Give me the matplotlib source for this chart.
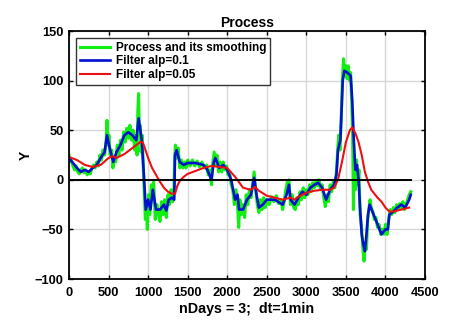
import matplotlib
matplotlib.use("Agg")
import matplotlib.pyplot as plt

# raw process (green)
t_proc = [0, 15, 30, 50, 70, 90, 110, 130, 150, 170, 190, 210, 230, 250, 270, 290,
          310, 330, 350, 370, 390, 410, 430, 450, 470, 480, 490, 505, 520, 540, 555,
          570, 590, 610, 630, 650, 670, 690, 710, 730, 750, 770, 790, 810, 830, 850,
          860, 870, 880, 890, 900, 910, 925, 940, 955, 965, 975, 990, 1005, 1020, 1040,
          1055, 1070, 1090, 1110, 1130, 1150, 1170, 1190, 1210, 1230, 1250, 1270, 1290,
          1310, 1325, 1335, 1345, 1360, 1380, 1400, 1420, 1440, 1460, 1480, 1500, 1530,
          1560, 1590, 1620, 1650, 1680, 1710, 1740, 1760, 1780, 1800, 1815, 1835, 1855,
          1870, 1890, 1910, 1930, 1950, 1970, 1990, 2010, 2030, 2050, 2070, 2090, 2110,
          2130, 2145, 2160, 2180, 2200, 2220, 2240, 2260, 2280, 2300, 2320, 2340, 2360,
          2380, 2400, 2420, 2440, 2460, 2480, 2500, 2530, 2560, 2590, 2620, 2650, 2680,
          2700, 2720, 2740, 2760, 2780, 2800, 2820, 2840, 2860, 2880, 2900, 2920, 2940,
          2960, 2980, 3000, 3020, 3040, 3060, 3080, 3100, 3120, 3140, 3160, 3180, 3200,
          3220, 3240, 3260, 3280, 3300, 3320, 3340, 3360, 3380, 3400, 3410, 3425, 3440,
          3455, 3470, 3485, 3500, 3515, 3530, 3545, 3560, 3575, 3585, 3595, 3605, 3620,
          3635, 3650, 3665, 3680, 3700, 3715, 3730, 3745, 3760, 3775, 3790, 3805, 3820,
          3840, 3860, 3880, 3900, 3920, 3940, 3960, 3980, 4000, 4020, 4040, 4060, 4080,
          4100, 4120, 4140, 4160, 4180, 4200, 4220, 4240, 4260, 4280, 4300, 4320]
y_proc = [25, 18, 20, 14, 10, 14, 8, 6, 10, 12, 7, 10, 5, 8, 6, 12,
          15, 12, 18, 14, 25, 20, 30, 25, 40, 60, 35, 45, 25, 30, 12,
          22, 18, 35, 25, 40, 30, 48, 38, 52, 42, 55, 40, 50, 30, 45,
          25, 70, 87, 45, 55, 28, 45, 10, -20, -40, -25, -50, -15, -35, -5,
          -15, -2, -40, -25, -35, -42, -22, -35, -20, -38, -15, -25, -10,
          -22, -12, 20, 35, 22, 32, 12, 20, 12, 18, 12, 20, 14,
          20, 14, 19, 13, 18, 12, 15, 5, 10, -5, 15, 28, 15,
          25, 8, 18, 8, 18, 10, 14, 5, 8, -5, -10, -25, -10,
          -25, -48, -20, -35, -25, -38, -15, -25, -10, -18, -5, 8, -10,
          -25, -33, -20, -30, -18, -28, -20, -25, -17, -22, -16, -24, -20,
          -30, -22, -10, -2, 0, -25, -15, -28, -30, -18, -25, -12, -20,
          -8, -18, -10, -15, -5, -12, -3, -8, -2, -6, 0, -10, -5,
          -18, -27, -15, -22, -5, -12, -2, -8, 8, 35, 45, 30, 60,
          100, 122, 105, 115, 102, 115, 100, 108, 75, 45, -30, 20, -10,
          20, -5, 10, -35, -50, -70, -82, -65, -70, -40, -30, -20, -28,
          -32, -40, -38, -48, -45, -55, -50, -55, -45, -55, -40, -30, -35,
          -28, -33, -25, -30, -24, -28, -22, -30, -25, -20, -15, -12]

# filter alp=0.1 (blue)
t_f1 = [0, 50, 100, 150, 200, 250, 300, 350, 400, 450, 480, 520, 560, 600, 650,
        700, 750, 800, 850, 880, 920, 950, 970, 1000, 1030, 1060, 1100, 1150, 1200,
        1230, 1260, 1300, 1330, 1340, 1360, 1400, 1450, 1500, 1600, 1700, 1750, 1800,
        1830, 1850, 1900, 1950, 2000, 2050, 2100, 2130, 2150, 2200, 2250, 2300, 2340,
        2370, 2400, 2450, 2500, 2600, 2700, 2750, 2780, 2800, 2850, 2900, 2950, 3000,
        3050, 3100, 3150, 3200, 3250, 3300, 3350, 3380, 3400, 3430, 3460, 3480, 3520,
        3560, 3580, 3600, 3620, 3640, 3660, 3680, 3700, 3720, 3740, 3760, 3780, 3800,
        3850, 3900, 3950, 4000, 4030, 4050, 4100, 4150, 4200, 4250, 4300, 4320]
y_f1 = [22, 17, 12, 8, 10, 8, 12, 15, 22, 28, 45, 30, 18, 28, 35,
        45, 48, 45, 40, 62, 40, 0, -30, -20, -30, -10, -30, -30, -25,
        -31, -20, -18, -20, 25, 30, 18, 15, 17, 17, 15, 10, 0,
        18, 22, 12, 15, 10, 0, -20, -15, -30, -30, -20, -15, 2,
        -15, -28, -25, -20, -20, -25, -15, -5, -20, -25, -18, -12, -15,
        -8, -5, -3, -8, -20, -10, -5, 5, 30, 40, 100, 110, 108,
        105, 80, 40, 10, 15, 0, -30, -55, -65, -72, -55, -35, -25,
        -35, -45, -55, -50, -50, -35, -32, -28, -25, -28, -20, -15]

# filter alp=0.05 (red)
t_f2 = [0, 100, 200, 300, 400, 500, 550, 600, 700, 800, 900, 930, 950, 1000, 1050,
        1100, 1150, 1200, 1250, 1300, 1340, 1370, 1400, 1450, 1500, 1600, 1700, 1800,
        1900, 2000, 2100, 2200, 2300, 2350, 2400, 2500, 2600, 2700, 2800, 2850, 2900,
        3000, 3100, 3200, 3300, 3350, 3400, 3450, 3500, 3550, 3580, 3620, 3660, 3700,
        3740, 3780, 3820, 3900, 3950, 4000, 4050, 4100, 4200, 4300]
y_f2 = [23, 20, 15, 13, 15, 22, 24, 22, 26, 32, 38, 38, 34, 22, 12,
        5, -2, -8, -12, -14, -14, -6, -1, 3, 6, 9, 12, 14,
        13, 12, 3, -8, -10, -7, -11, -16, -18, -20, -18, -20, -17,
        -13, -11, -10, -10, -8, 0, 18, 38, 50, 53, 47, 38, 25,
        8, -2, -10, -18, -22, -28, -32, -32, -30, -28]

zero_x = [0, 4320]
zero_y = [0, 0]

xticks = [0, 500, 1000, 1500, 2000, 2500, 3000, 3500, 4000, 4500]
yticks = [-100, -50, 0, 50, 100, 150]

plt.rcParams['font.family'] = ['Liberation Sans', 'DejaVu Sans']
plt.rcParams['font.weight'] = 'bold'

fig = plt.figure(figsize=(4.57, 3.22), dpi=100)
ax = fig.add_axes([0.151, 0.1335, 0.779, 0.770])

ax.plot(t_proc, y_proc, color='#11ee11', lw=2.2, label='Process and its smoothing')
ax.plot(t_f1, y_f1, color='#0010d0', lw=1.9, label='Filter alp=0.1')
ax.plot(t_f2, y_f2, color='#ee1010', lw=1.5, label='Filter alp=0.05')
ax.plot(zero_x, zero_y, color='black', lw=1.4)

ax.set_xlim(0, 4500)
ax.set_ylim(-100, 150)
ax.set_xticks(xticks)
ax.set_yticks(yticks)
ax.grid(True, color='#d8d8d8', lw=1.0)
ax.set_axisbelow(True)
ax.tick_params(direction='in', length=3, width=1, top=True, right=True,
               labelsize=9.3, pad=4)
ax.tick_params(axis='x', pad=5.5)
for s in ax.spines.values():
    s.set_linewidth(1.3)

ax.set_title('Process', fontsize=10, fontweight='bold', pad=3)
ax.set_xlabel('nDays = 3;  dt=1min', fontsize=10.3, fontweight='bold', labelpad=2.5)
ax.set_ylabel('Y', fontsize=10, fontweight='bold', labelpad=1)

leg = ax.legend(loc='upper left', fontsize=8.5, handlelength=2.6, handletextpad=0.5,
                borderpad=0.3, labelspacing=0.15, fancybox=False, framealpha=1,
                borderaxespad=0.6)
leg.get_frame().set_edgecolor('#333333')
leg.get_frame().set_linewidth(1.0)

fig.savefig('out.png', dpi=100)
